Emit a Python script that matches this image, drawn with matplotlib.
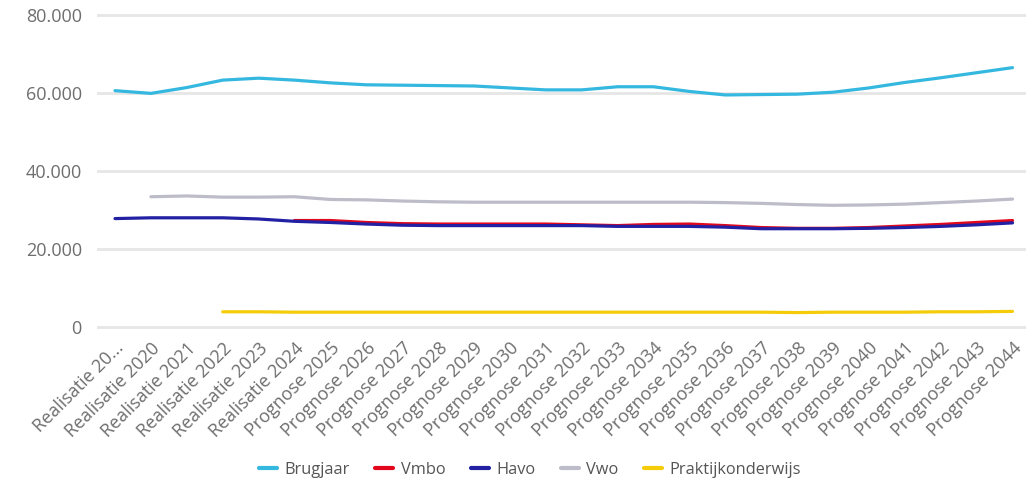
import matplotlib
matplotlib.use("Agg")
import matplotlib.pyplot as plt
from matplotlib.ticker import FuncFormatter

categories = ["Realisatie 20..."] + [f"Realisatie {y}" for y in range(2020, 2025)] + \
             [f"Prognose {y}" for y in range(2025, 2045)]

brugjaar = [60.6, 59.9, 61.4, 63.3, 63.8, 63.3, 62.6, 62.1, 62.0, 61.9, 61.8, 61.3, 60.8,
            60.8, 61.6, 61.6, 60.4, 59.5, 59.6, 59.7, 60.2, 61.3, 62.7, 63.9, 65.2, 66.5]
vmbo = [None, None, None, None, None, 27.3, 27.3, 26.8, 26.5, 26.4, 26.4, 26.4, 26.4,
        26.2, 26.0, 26.3, 26.4, 26.0, 25.5, 25.3, 25.3, 25.5, 25.9, 26.3, 26.8, 27.3]
havo = [27.8, 28.0, 28.0, 28.0, 27.7, 27.1, 26.8, 26.4, 26.1, 26.0, 26.0, 26.0, 26.0,
        26.0, 25.8, 25.8, 25.8, 25.6, 25.2, 25.2, 25.2, 25.3, 25.5, 25.8, 26.2, 26.7]
vwo = [None, 33.4, 33.6, 33.3, 33.3, 33.4, 32.7, 32.6, 32.3, 32.1, 32.0, 32.0, 32.0,
       32.0, 32.0, 32.0, 32.0, 31.9, 31.7, 31.4, 31.2, 31.3, 31.5, 31.9, 32.3, 32.8]
praktijk = [None, None, None, 3.9, 3.9, 3.8, 3.8, 3.8, 3.8, 3.8, 3.8, 3.8, 3.8,
            3.8, 3.8, 3.8, 3.8, 3.8, 3.8, 3.7, 3.8, 3.8, 3.8, 3.9, 3.9, 4.0]

series = [("Brugjaar", brugjaar, "#35b8df"),
          ("Vmbo", vmbo, "#e2071b"),
          ("Havo", havo, "#2321a3"),
          ("Vwo", vwo, "#bdbcc9"),
          ("Praktijkonderwijs", praktijk, "#f4cc0a")]

plt.rcParams['font.family'] = ['Open Sans', 'DejaVu Sans']

W, H = 1026, 484
fig = plt.figure(figsize=(W / 100, H / 100), dpi=100)

# pixel geometry
x0_pix, dx_pix = 115.0, 35.9
y0_pix, pix_per_unit = 327.0, 3.9  # per 1000
xlo, xhi = -0.5, 25.5
ylo, yhi = -2.0, 82.0
left = x0_pix + xlo * dx_pix
right = x0_pix + xhi * dx_pix
bottom = y0_pix - ylo * pix_per_unit
top = y0_pix - yhi * pix_per_unit
ax = fig.add_axes([left / W, 1 - bottom / H, (right - left) / W, (bottom - top) / H])

x = list(range(len(categories)))
for name, vals, col in series:
    xs = [i for i, v in zip(x, vals) if v is not None]
    ys = [v for v in vals if v is not None]
    ax.plot(xs, ys, color=col, lw=2.3, label=name, solid_capstyle='round',
            solid_joinstyle='round', zorder=3)

ax.set_xlim(xlo, xhi)
ax.set_ylim(ylo, yhi)
ax.set_yticks([0, 20, 40, 60, 80])
ax.yaxis.set_major_formatter(FuncFormatter(lambda v, p: "0" if v == 0 else f"{int(v)}.000"))
ax.grid(axis='y', color='#e6e6e6', lw=2.0, zorder=0)
ax.set_axisbelow(True)
for s in ax.spines.values():
    s.set_visible(False)
ax.tick_params(axis='y', length=0, pad=11, labelsize=13, labelcolor='#6e6e6e')
ax.tick_params(axis='x', length=0, pad=3, labelsize=13, labelcolor='#6e6e6e')
ax.set_xticks(x)
ax.set_xticklabels(categories, rotation=45, ha='right', rotation_mode='anchor')

handles, labels = ax.get_legend_handles_labels()
leg = fig.legend(handles, labels, loc='center', bbox_to_anchor=(530 / W, 1 - 470 / H),
                 ncol=5, frameon=False, fontsize=11.8, handlelength=1.1,
                 columnspacing=1.55, handletextpad=0.45)
for t in leg.get_texts():
    t.set_color('#555555')
for l in leg.get_lines():
    l.set_linewidth(3)

fig.savefig("out.png", dpi=100)
